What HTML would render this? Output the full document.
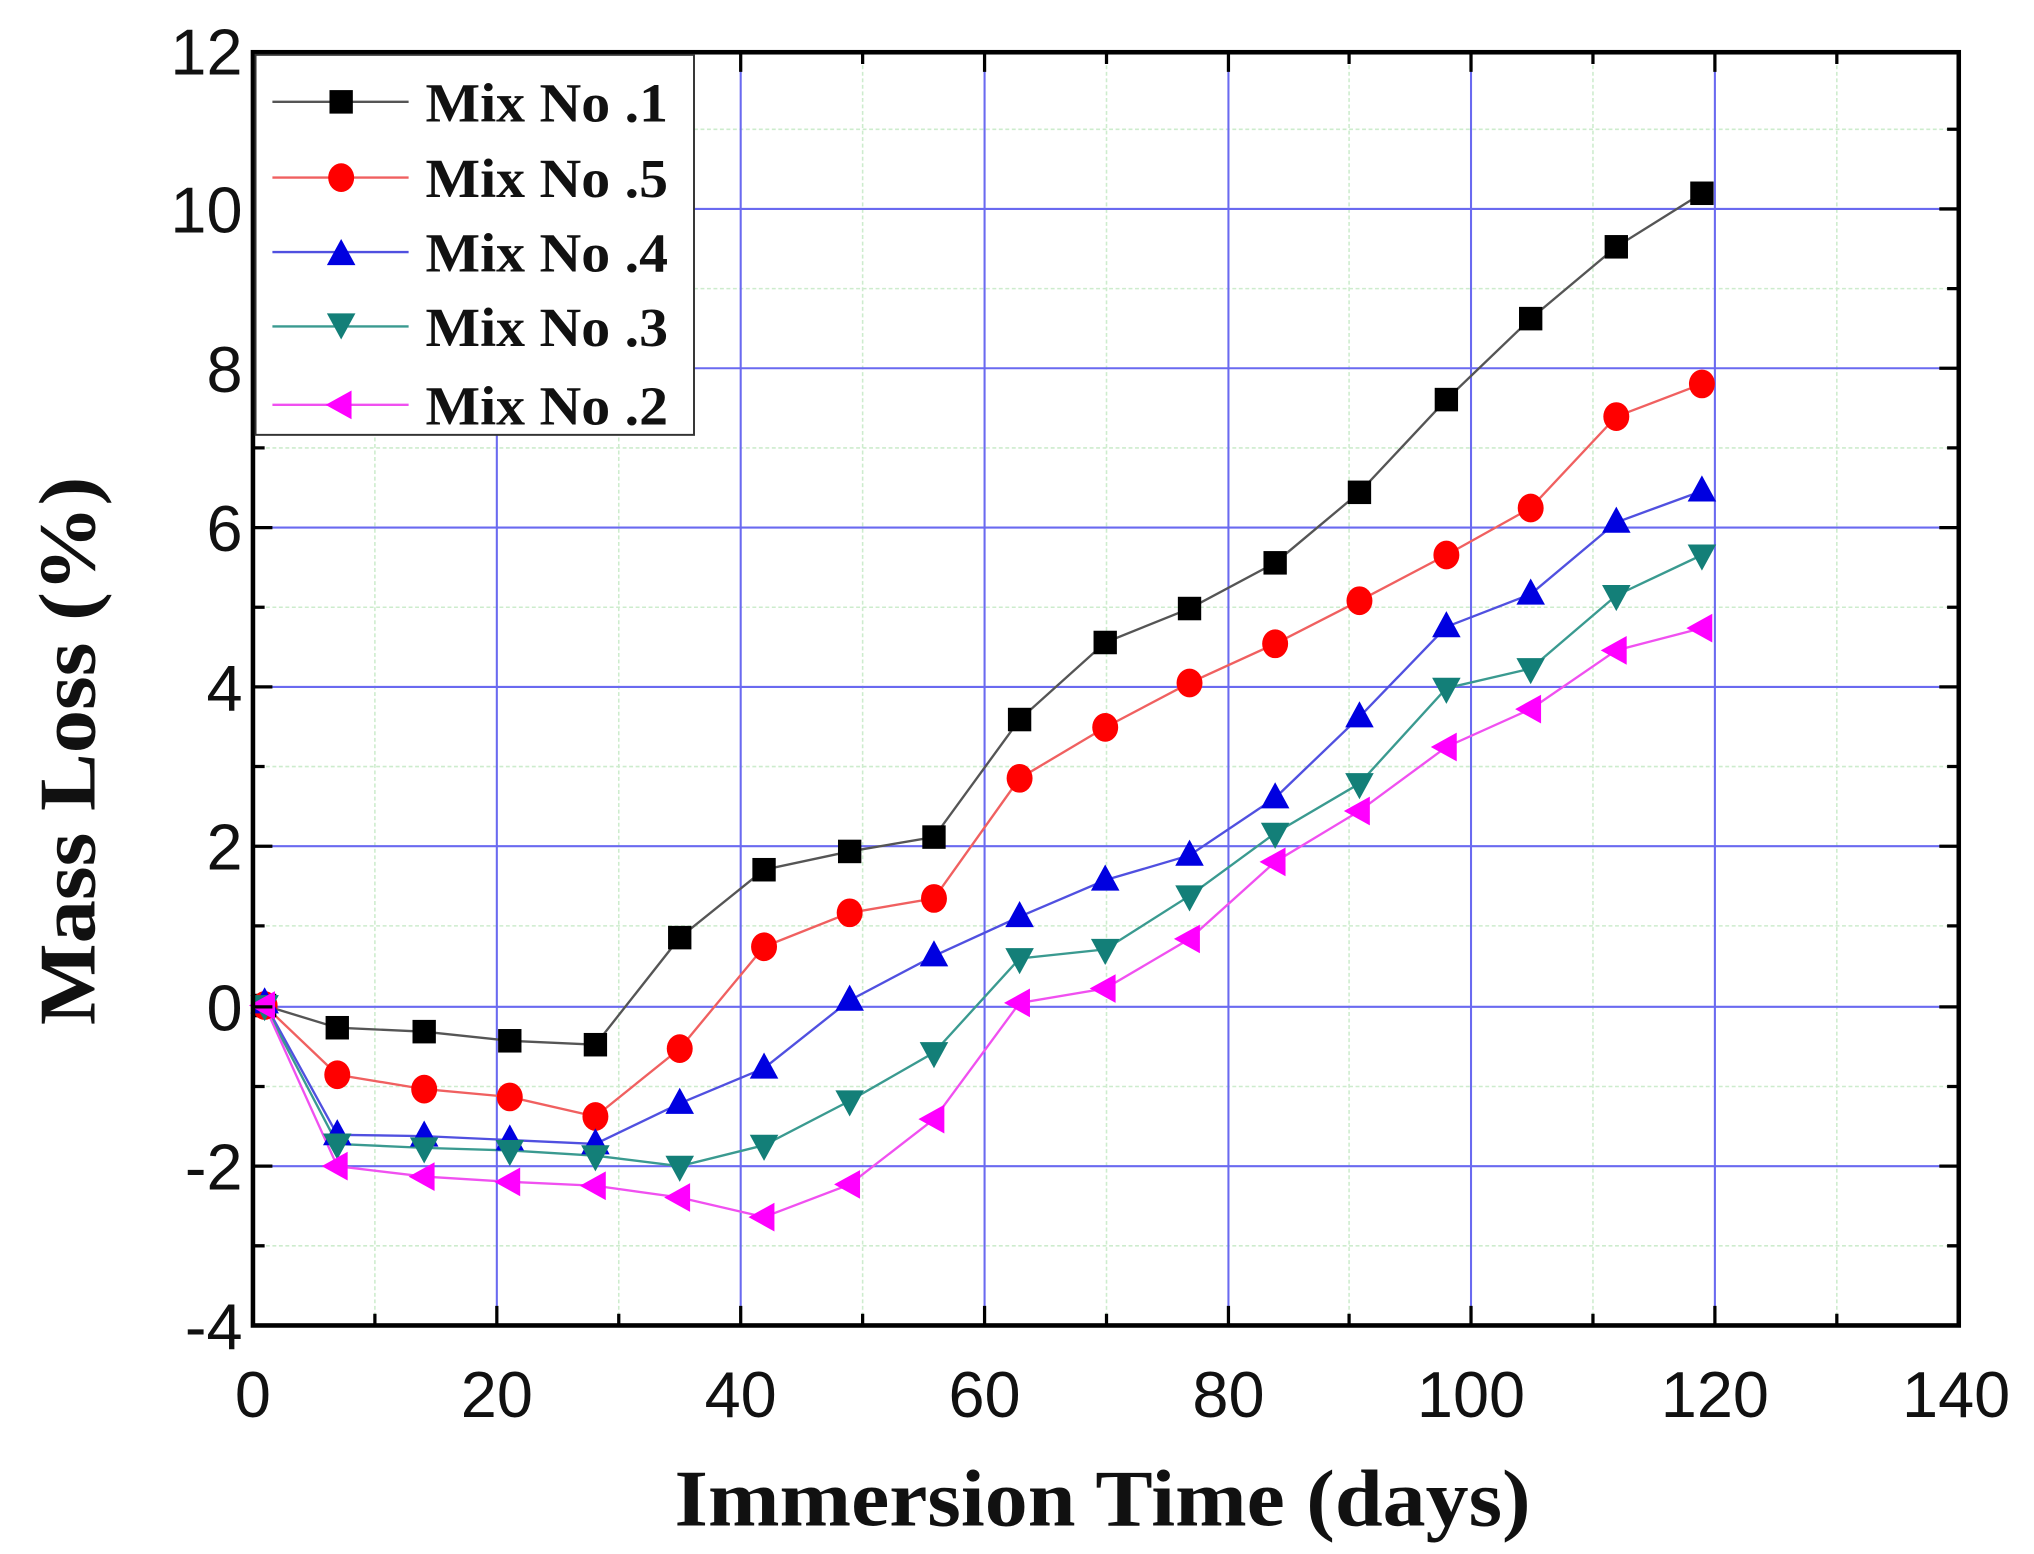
<!DOCTYPE html>
<html><head><meta charset="utf-8"><style>
html,body{margin:0;padding:0;background:#fff;}
svg{display:block;}
</style></head><body>
<svg width="2034" height="1554" viewBox="0 0 1568 1190" preserveAspectRatio="none" xmlns="http://www.w3.org/2000/svg">
<rect width="1568" height="1190" fill="#fff"/>
<g stroke="#cdeccd" stroke-width="1.2" stroke-dasharray="3,2">
<line x1="289" y1="40" x2="289" y2="1015"/><line x1="477" y1="40" x2="477" y2="1015"/><line x1="665" y1="40" x2="665" y2="1015"/><line x1="853" y1="40" x2="853" y2="1015"/><line x1="1040" y1="40" x2="1040" y2="1015"/><line x1="1228" y1="40" x2="1228" y2="1015"/><line x1="1416" y1="40" x2="1416" y2="1015"/>
<line x1="195" y1="99" x2="1510" y2="99"/><line x1="195" y1="221" x2="1510" y2="221"/><line x1="195" y1="343" x2="1510" y2="343"/><line x1="195" y1="465" x2="1510" y2="465"/><line x1="195" y1="587" x2="1510" y2="587"/><line x1="195" y1="709" x2="1510" y2="709"/><line x1="195" y1="832" x2="1510" y2="832"/><line x1="195" y1="954" x2="1510" y2="954"/>
</g>
<g stroke="#6a6af0" stroke-width="1.6">
<line x1="383" y1="40" x2="383" y2="1015"/><line x1="571" y1="40" x2="571" y2="1015"/><line x1="759" y1="40" x2="759" y2="1015"/><line x1="947" y1="40" x2="947" y2="1015"/><line x1="1134" y1="40" x2="1134" y2="1015"/><line x1="1322" y1="40" x2="1322" y2="1015"/>
<line x1="195" y1="160" x2="1510" y2="160"/><line x1="195" y1="282" x2="1510" y2="282"/><line x1="195" y1="404" x2="1510" y2="404"/><line x1="195" y1="526" x2="1510" y2="526"/><line x1="195" y1="648" x2="1510" y2="648"/><line x1="195" y1="771" x2="1510" y2="771"/><line x1="195" y1="893" x2="1510" y2="893"/>
</g>
<g fill="none" stroke-width="1.8">
<polyline stroke="#555" points="204,770 260,787 327,790 393,797 459,800 524,718 589,666 655,652 720,641 786,551 852,492 917,466 983,431 1048,377 1115,306 1180,244 1246,189 1312,148"/>
<polyline stroke="#f06060" points="204,770 260,823 327,834 393,840 459,855 524,803 589,725 655,699 720,688 786,596 852,557 917,523 983,493 1048,460 1115,425 1180,389 1246,319 1312,294"/>
<polyline stroke="#5050e0" points="204,768 260,869 327,870 393,873 459,876 524,845 589,818 655,766 720,732 786,702 852,674 917,655 983,611 1048,549 1115,480 1180,455 1246,400 1312,376"/>
<polyline stroke="#3a9a90" points="204,770 260,876 327,879 393,881 459,885 524,893 589,877 655,843 720,806 786,734 852,727 917,686 983,638 1048,600 1115,527 1180,512 1246,456 1312,425"/>
<polyline stroke="#f050f0" points="204,770 260,893 327,901 393,905 459,908 524,917 589,932 655,907 720,857 786,768 852,757 917,719 983,660 1048,621 1115,572 1180,543 1246,498 1312,481"/>
</g>
<defs>
<rect id="sq" x="-9" y="-9" width="18" height="18" fill="#000"/>
<ellipse id="ci" rx="10" ry="11" fill="#f00"/>
<path id="up" d="M0,-12 L11,8 L-11,8Z" fill="#0000e0"/>
<path id="dn" d="M0,12 L11,-8 L-11,-8Z" fill="#137f78"/>
<path id="lt" d="M-12,0 L8,-11 L8,11Z" fill="#f0f"/>
</defs>
<g>
<use href="#sq" x="204" y="770"/><use href="#sq" x="260" y="787"/><use href="#sq" x="327" y="790"/><use href="#sq" x="393" y="797"/><use href="#sq" x="459" y="800"/><use href="#sq" x="524" y="718"/><use href="#sq" x="589" y="666"/><use href="#sq" x="655" y="652"/><use href="#sq" x="720" y="641"/><use href="#sq" x="786" y="551"/><use href="#sq" x="852" y="492"/><use href="#sq" x="917" y="466"/><use href="#sq" x="983" y="431"/><use href="#sq" x="1048" y="377"/><use href="#sq" x="1115" y="306"/><use href="#sq" x="1180" y="244"/><use href="#sq" x="1246" y="189"/><use href="#sq" x="1312" y="148"/>
<use href="#ci" x="204" y="770"/><use href="#ci" x="260" y="823"/><use href="#ci" x="327" y="834"/><use href="#ci" x="393" y="840"/><use href="#ci" x="459" y="855"/><use href="#ci" x="524" y="803"/><use href="#ci" x="589" y="725"/><use href="#ci" x="655" y="699"/><use href="#ci" x="720" y="688"/><use href="#ci" x="786" y="596"/><use href="#ci" x="852" y="557"/><use href="#ci" x="917" y="523"/><use href="#ci" x="983" y="493"/><use href="#ci" x="1048" y="460"/><use href="#ci" x="1115" y="425"/><use href="#ci" x="1180" y="389"/><use href="#ci" x="1246" y="319"/><use href="#ci" x="1312" y="294"/>
<use href="#up" x="204" y="768"/><use href="#up" x="260" y="869"/><use href="#up" x="327" y="870"/><use href="#up" x="393" y="873"/><use href="#up" x="459" y="876"/><use href="#up" x="524" y="845"/><use href="#up" x="589" y="818"/><use href="#up" x="655" y="766"/><use href="#up" x="720" y="732"/><use href="#up" x="786" y="702"/><use href="#up" x="852" y="674"/><use href="#up" x="917" y="655"/><use href="#up" x="983" y="611"/><use href="#up" x="1048" y="549"/><use href="#up" x="1115" y="480"/><use href="#up" x="1180" y="455"/><use href="#up" x="1246" y="400"/><use href="#up" x="1312" y="376"/>
<use href="#dn" x="204" y="770"/><use href="#dn" x="260" y="876"/><use href="#dn" x="327" y="879"/><use href="#dn" x="393" y="881"/><use href="#dn" x="459" y="885"/><use href="#dn" x="524" y="893"/><use href="#dn" x="589" y="877"/><use href="#dn" x="655" y="843"/><use href="#dn" x="720" y="806"/><use href="#dn" x="786" y="734"/><use href="#dn" x="852" y="727"/><use href="#dn" x="917" y="686"/><use href="#dn" x="983" y="638"/><use href="#dn" x="1048" y="600"/><use href="#dn" x="1115" y="527"/><use href="#dn" x="1180" y="512"/><use href="#dn" x="1246" y="456"/><use href="#dn" x="1312" y="425"/>
<use href="#lt" x="204" y="770"/><use href="#lt" x="260" y="893"/><use href="#lt" x="327" y="901"/><use href="#lt" x="393" y="905"/><use href="#lt" x="459" y="908"/><use href="#lt" x="524" y="917"/><use href="#lt" x="589" y="932"/><use href="#lt" x="655" y="907"/><use href="#lt" x="720" y="857"/><use href="#lt" x="786" y="768"/><use href="#lt" x="852" y="757"/><use href="#lt" x="917" y="719"/><use href="#lt" x="983" y="660"/><use href="#lt" x="1048" y="621"/><use href="#lt" x="1115" y="572"/><use href="#lt" x="1180" y="543"/><use href="#lt" x="1246" y="498"/><use href="#lt" x="1312" y="481"/>
</g>
<g stroke="#000" stroke-width="2.5">
<path d="M383,1015v-15M571,1015v-15M759,1015v-15M947,1015v-15M1134,1015v-15M1322,1015v-15M289,1015v-9M477,1015v-9M665,1015v-9M853,1015v-9M1040,1015v-9M1228,1015v-9M1416,1015v-9"/>
<path d="M383,40v15M571,40v15M759,40v15M947,40v15M1134,40v15M1322,40v15M289,40v9M477,40v9M665,40v9M853,40v9M1040,40v9M1228,40v9M1416,40v9"/>
<path d="M195,160h15M195,282h15M195,404h15M195,526h15M195,648h15M195,771h15M195,893h15M195,99h9M195,221h9M195,343h9M195,465h9M195,587h9M195,709h9M195,832h9M195,954h9"/>
<path d="M1510,160h-15M1510,282h-15M1510,404h-15M1510,526h-15M1510,648h-15M1510,771h-15M1510,893h-15M1510,99h-9M1510,221h-9M1510,343h-9M1510,465h-9M1510,587h-9M1510,709h-9M1510,832h-9M1510,954h-9"/>
</g>
<rect x="195" y="40" width="1315" height="975" fill="none" stroke="#000" stroke-width="3.5"/>
<rect x="197" y="42" width="338" height="291" fill="#fff" stroke="#333" stroke-width="1.5"/>
<g stroke-width="1.8">
<line x1="210" y1="78" x2="315" y2="78" stroke="#555"/><line x1="210" y1="136" x2="315" y2="136" stroke="#f06060"/><line x1="210" y1="193" x2="315" y2="193" stroke="#5050e0"/><line x1="210" y1="250" x2="315" y2="250" stroke="#3a9a90"/><line x1="210" y1="310" x2="315" y2="310" stroke="#f050f0"/>
</g>
<use href="#sq" x="263" y="78"/><use href="#ci" x="263" y="136"/><use href="#up" x="263" y="195"/><use href="#dn" x="263" y="248"/><use href="#lt" x="263" y="310"/>
<g font-family="Liberation Serif, serif" font-weight="bold" font-size="42" fill="#111">
<text x="328" y="93" textLength="187" lengthAdjust="spacingAndGlyphs">Mix No .1</text><text x="328" y="151" textLength="187" lengthAdjust="spacingAndGlyphs">Mix No .5</text><text x="328" y="208" textLength="187" lengthAdjust="spacingAndGlyphs">Mix No .4</text><text x="328" y="265" textLength="187" lengthAdjust="spacingAndGlyphs">Mix No .3</text><text x="328" y="325" textLength="187" lengthAdjust="spacingAndGlyphs">Mix No .2</text>
</g>
<g font-family="Liberation Sans, sans-serif" font-size="50" fill="#111" text-anchor="end">
<text x="187" y="57">12</text><text x="187" y="178">10</text><text x="187" y="300">8</text><text x="187" y="422">6</text><text x="187" y="544">4</text><text x="187" y="666">2</text><text x="187" y="789">0</text><text x="187" y="911">-2</text><text x="187" y="1033">-4</text>
</g>
<g font-family="Liberation Sans, sans-serif" font-size="50" fill="#111" text-anchor="middle">
<text x="195" y="1085">0</text><text x="383" y="1085">20</text><text x="571" y="1085">40</text><text x="759" y="1085">60</text><text x="947" y="1085">80</text><text x="1134" y="1085">100</text><text x="1322" y="1085">120</text><text x="1508" y="1085">140</text>
</g>
<text x="520" y="1168" font-family="Liberation Serif, serif" font-weight="bold" font-size="62" fill="#111" textLength="660" lengthAdjust="spacingAndGlyphs">Immersion Time (days)</text>
<text transform="translate(73,785) rotate(-90)" font-family="Liberation Serif, serif" font-weight="bold" font-size="62" fill="#111" textLength="420" lengthAdjust="spacingAndGlyphs">Mass Loss (%)</text>
</svg>
</body></html>
